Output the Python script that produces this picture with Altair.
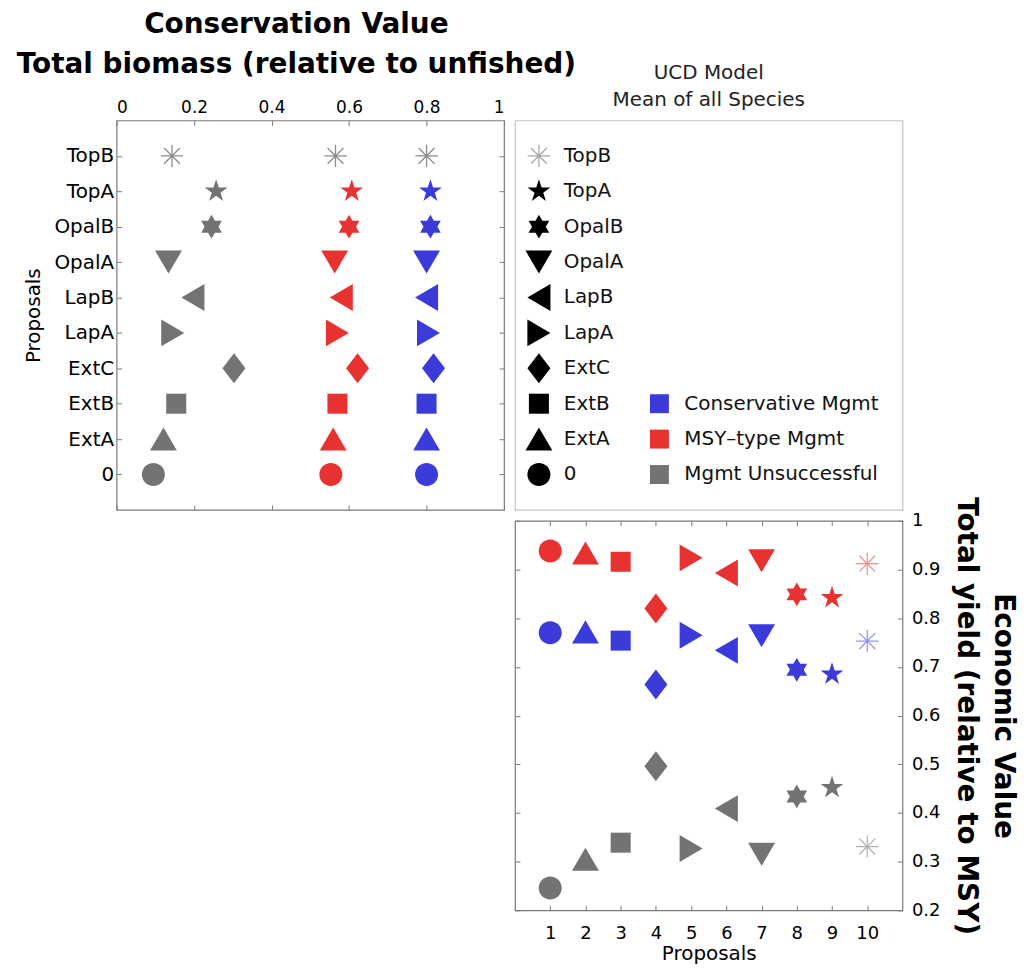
import math
import altair as alt
import pandas as pd

# ---------------- data ----------------
proposals = ["0", "ExtA", "ExtB", "ExtC", "LapA", "LapB", "OpalA", "OpalB", "TopA", "TopB"]
mgmt_types = ["Conservative Mgmt", "MSY\u2013type Mgmt", "Mgmt Unsuccessful"]

biomass_conservative = [0.800, 0.800, 0.800, 0.818, 0.805, 0.800, 0.800, 0.810, 0.810, 0.800]
biomass_msy = [0.553, 0.559, 0.570, 0.622, 0.570, 0.580, 0.563, 0.600, 0.607, 0.565]
biomass_unsuccessful = [0.095, 0.121, 0.154, 0.303, 0.145, 0.197, 0.134, 0.245, 0.257, 0.143]

yield_conservative = [0.770, 0.772, 0.754, 0.664, 0.765, 0.734, 0.764, 0.694, 0.685, 0.753]
yield_msy = [0.938, 0.934, 0.916, 0.820, 0.924, 0.893, 0.918, 0.849, 0.842, 0.912]
yield_unsuccessful = [0.246, 0.305, 0.339, 0.496, 0.327, 0.409, 0.315, 0.434, 0.452, 0.331]

x_ticks_biomass = [0, 0.2, 0.4, 0.6, 0.8, 1]
y_ticks_yield = [0.2, 0.3, 0.4, 0.5, 0.6, 0.7, 0.8, 0.9, 1]
x_ticks_proposals = [1, 2, 3, 4, 5, 6, 7, 8, 9, 10]

# legend rows used by the colour key (same rows as in the reference)
colour_key_rows = ["ExtB", "ExtA", "0"]

# ---------------- build tables ----------------
rows = []
series = [
    (mgmt_types[0], biomass_conservative, yield_conservative),
    (mgmt_types[1], biomass_msy, yield_msy),
    (mgmt_types[2], biomass_unsuccessful, yield_unsuccessful),
]
for mg, bio, yl in series:
    for i, p in enumerate(proposals):
        rows.append({"proposal": p, "mgmt": mg, "biomass": bio[i], "yield": yl[i], "idx": i + 1})
df = pd.DataFrame(rows)
legend_df = pd.DataFrame({"proposal": proposals})
key_df = pd.DataFrame({"mgmt": mgmt_types, "row": colour_key_rows})

# ---------------- styles ----------------
BLUE = "#3b3bd9"
RED = "#e83232"
GREY = "#737373"
FRAME = "#7a7a7a"
FONT = "DejaVu Sans"


def poly(pts):
    return "M" + "L".join(f"{x:.3f},{y:.3f}" for x, y in pts) + "Z"


def star(n, R, r):
    pts = []
    for k in range(2 * n):
        a = -math.pi / 2 + k * math.pi / n
        rr = R if k % 2 == 0 else r
        pts.append((rr * math.cos(a), rr * math.sin(a)))
    return poly(pts)


c = 0.77
d = 0.75 * 0.7071
shape_paths = [
    f"M{-c},0A{c},{c} 0 1,1 {c},0A{c},{c} 0 1,1 {-c},0Z",          # 0  circle
    "M0,-0.77L0.9,0.77L-0.9,0.77Z",                                  # ExtA ^
    "M-0.67,-0.67L0.67,-0.67L0.67,0.67L-0.67,0.67Z",                 # ExtB square
    "M0,-1L0.77,0L0,1L-0.77,0Z",                                     # ExtC diamond
    "M-0.77,-0.9L0.77,0L-0.77,0.9Z",                                 # LapA >
    "M0.77,-0.9L-0.77,0L0.77,0.9Z",                                  # LapB <
    "M-0.9,-0.77L0.9,-0.77L0,0.77Z",                                 # OpalA v
    star(6, 0.8, 0.8 / math.sqrt(3)),                                # OpalB hexagram
    star(5, 0.8, 0.8 * 0.382),                                       # TopA pentagram
    f"M0,-0.75L0,0.75M-0.75,0L0.75,0M{-d},{-d}L{d},{d}M{-d},{d}L{d},{-d}",  # TopB asterisk
]

shape_scale = alt.Scale(domain=proposals, range=shape_paths)
colour_scale = alt.Scale(domain=mgmt_types, range=[BLUE, RED, GREY])
y_order = list(reversed(proposals))
y_scale = alt.Scale(type="point", domain=y_order, padding=1)

W, H = 389, 391
SIZE = 900

not_topb = alt.datum.proposal != "TopB"
is_topb = alt.datum.proposal == "TopB"


def tick_axis(orient, values=None):
    kw = dict(orient=orient, labels=False, domain=False, ticks=True, tickSize=5, offset=-5,
              title=None, grid=False, tickColor=FRAME, tickWidth=1)
    if values is not None:
        kw["values"] = values
    return alt.Axis(**kw)


# ---------------- panel A: conservation value ----------------
a_x = alt.X("biomass:Q", scale=alt.Scale(domain=[0, 1]),
            axis=alt.Axis(orient="top", values=x_ticks_biomass, format="~g", title=None,
                          domain=False, ticks=False, labelPadding=4, labelFontSize=17,
                          grid=False))
a_y = alt.Y("proposal:N", scale=y_scale,
            axis=alt.Axis(title="Proposals", domain=False, ticks=False, labelPadding=3,
                          labelFontSize=20, titleFontSize=20, titleFontWeight="normal",
                          titlePadding=10, grid=False))

a_filled = alt.Chart(df).transform_filter(not_topb).mark_point(
    filled=True, opacity=1, size=SIZE).encode(
    x=a_x, y=a_y,
    shape=alt.Shape("proposal:N", scale=shape_scale, legend=None),
    color=alt.Color("mgmt:N", scale=colour_scale, legend=None),
)
a_star = alt.Chart(df).transform_filter(is_topb).mark_point(
    filled=False, opacity=1, size=SIZE, strokeWidth=1.3, color="#8c8c8c").encode(
    x=alt.X("biomass:Q", axis=tick_axis("bottom", x_ticks_biomass)),
    y=alt.Y("proposal:N", axis=tick_axis("right")),
    shape=alt.Shape("proposal:N", scale=shape_scale, legend=None),
)
a_ticks = alt.Chart(df).mark_point(opacity=0, size=1).encode(
    x=alt.X("biomass:Q", axis=tick_axis("top", x_ticks_biomass)),
    y=alt.Y("proposal:N", axis=tick_axis("left")),
)
panel_a = alt.layer(a_filled, a_star, a_ticks).properties(
    width=W, height=H,
    title=alt.TitleParams(text=["Conservation Value", "Total biomass (relative to unfished)"],
                          fontSize=28, fontWeight="bold", lineHeight=40, offset=20, dx=-14,
                          anchor="middle", color="black", font=FONT),
    view=alt.ViewBackground(stroke=FRAME, strokeWidth=1.2),
)

# ---------------- panel B: legend panel ----------------
b_y = alt.Y("proposal:N", scale=y_scale, axis=None)
b_sym = alt.Chart(legend_df).transform_filter(not_topb).mark_point(
    filled=True, opacity=1, size=SIZE, color="black").encode(
    x=alt.value(24), y=b_y,
    shape=alt.Shape("proposal:N", scale=shape_scale, legend=None),
)
b_star = alt.Chart(legend_df).transform_filter(is_topb).mark_point(
    filled=False, opacity=1, size=SIZE, strokeWidth=1.3, color="#a8a8a8").encode(
    x=alt.value(24), y=b_y,
    shape=alt.Shape("proposal:N", scale=shape_scale, legend=None),
)
b_txt = alt.Chart(legend_df).mark_text(
    align="left", baseline="middle", fontSize=20, font=FONT, color="#111").encode(
    x=alt.value(49), y=b_y, text="proposal:N")
b_sq = alt.Chart(key_df).mark_square(size=361, opacity=1).encode(
    x=alt.value(145), y=alt.Y("row:N", scale=y_scale, axis=None),
    color=alt.Color("mgmt:N", scale=colour_scale, legend=None))
b_sqtxt = alt.Chart(key_df).mark_text(
    align="left", baseline="middle", fontSize=20, font=FONT, color="#111").encode(
    x=alt.value(170), y=alt.Y("row:N", scale=y_scale, axis=None), text="mgmt:N")

panel_b = alt.layer(b_sym, b_star, b_txt, b_sq, b_sqtxt).properties(
    width=W, height=H,
    title=alt.TitleParams(text=["UCD Model", "Mean of all Species"], fontSize=20,
                          fontWeight="normal", lineHeight=27, offset=11, anchor="middle",
                          color="#222", font=FONT),
    view=alt.ViewBackground(stroke="#c4c4c4", strokeWidth=1.2),
)

# ---------------- empty cell ----------------
panel_c = alt.Chart(pd.DataFrame({"v": [0]})).mark_point(opacity=0).encode(
    x=alt.X("v:Q", axis=None), y=alt.Y("v:Q", axis=None)).properties(
    width=W, height=H, view=alt.ViewBackground(stroke="transparent"))

# ---------------- panel D: economic value ----------------
d_x = alt.X("idx:Q", scale=alt.Scale(domain=[0, 11]),
            axis=alt.Axis(values=x_ticks_proposals, title="Proposals", domain=False, ticks=False,
                          labelPadding=14, labelFontSize=18, titleFontSize=20,
                          titleFontWeight="normal", titlePadding=1, grid=False))
d_y = alt.Y("yield:Q", scale=alt.Scale(domain=[0.2, 1]),
            axis=alt.Axis(orient="right", values=y_ticks_yield, format="~g",
                          title=["Economic Value", "Total yield (relative to MSY)"],
                          domain=False, ticks=False, labelPadding=9, labelFontSize=18,
                          titleFontSize=28, titleFontWeight="bold", titleLineHeight=37,
                          titlePadding=12, grid=False))
d_filled = alt.Chart(df).transform_filter(not_topb).mark_point(
    filled=True, opacity=1, size=SIZE).encode(
    x=d_x, y=d_y,
    shape=alt.Shape("proposal:N", scale=shape_scale, legend=None),
    color=alt.Color("mgmt:N", scale=colour_scale, legend=None),
)
d_star = alt.Chart(df).transform_filter(is_topb).mark_point(
    filled=False, opacity=0.55, size=SIZE, strokeWidth=1.2).encode(
    x=alt.X("idx:Q", axis=tick_axis("top", x_ticks_proposals)),
    y=alt.Y("yield:Q", axis=tick_axis("left", y_ticks_yield)),
    shape=alt.Shape("proposal:N", scale=shape_scale, legend=None),
    color=alt.Color("mgmt:N", scale=colour_scale, legend=None),
)
d_ticks = alt.Chart(df).mark_point(opacity=0, size=1).encode(
    x=alt.X("idx:Q", axis=tick_axis("bottom", x_ticks_proposals)),
    y=alt.Y("yield:Q", axis=tick_axis("right", y_ticks_yield)),
)
panel_d = alt.layer(d_filled, d_star, d_ticks).properties(
    width=W, height=H,
    view=alt.ViewBackground(stroke=FRAME, strokeWidth=1.2),
)

chart = alt.concat(panel_a, panel_b, panel_c, panel_d, columns=2, spacing=11).properties(
    align="each",
    bounds="flush",
    padding={"left": 8, "top": 0, "right": 4, "bottom": 4},
).configure(font=FONT).configure_axis(
    labelFont=FONT, titleFont=FONT, labelColor="black", titleColor="black",
).configure_view(strokeWidth=1.2)

chart.save("out.html", embed_options={"renderer": "svg", "actions": False})
